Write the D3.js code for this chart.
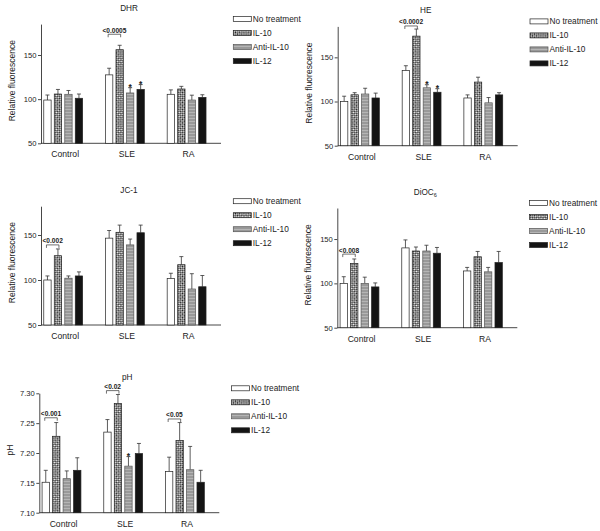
<!DOCTYPE html>
<html><head><meta charset="utf-8">
<script src="https://cdn.jsdelivr.net/npm/d3@7"></script>
<style>
body{margin:0;background:#fff}
svg{display:block}
text{font-family:"Liberation Sans",Arial,Helvetica,sans-serif;fill:#222}
</style>
</head><body>
<svg id="c" width="600" height="531"></svg>
<script>
// ---------- data ----------
const groups = ["Control", "SLE", "RA"];
const treatments = ["No treatment", "IL-10", "Anti-IL-10", "IL-12"];

// rows = groups, cols = treatments
const dhrMean = [[99, 105.8, 105.5, 101], [127.5, 156, 107, 111], [105.5, 111.5, 99, 102]];
const dhrErr  = [[104.7, 111, 109.8, 105.8], [135, 161, 113, 116.5], [110.5, 114.5, 104.5, 105]];

const heMean = [[100, 107.6, 108.5, 104], [135, 174, 115.5, 110.5], [104, 122, 98.5, 107.5]];
const heErr  = [[106, 110, 115, 109.5], [140.5, 182, 119, 114.5], [107.5, 127.5, 104.5, 110]];

const jcMean = [[100, 127, 102, 104.5], [146.5, 153, 139, 152.5], [101.5, 117, 90, 92.5]];
const jcErr  = [[104.5, 134.5, 104.5, 109], [155, 161, 145.5, 161], [107.5, 126, 107, 105]];

const diocMean = [[100, 122.5, 100, 96], [140, 136.5, 136.5, 134], [114, 130, 113, 123.5]];
const diocErr  = [[107.5, 127.5, 107, 100.5], [149, 141, 143, 140.5], [118, 136, 118, 136]];

const phMean = [[7.151, 7.228, 7.157, 7.171], [7.235, 7.283, 7.178, 7.199], [7.169, 7.221, 7.172, 7.151]];
const phErr  = [[7.171, 7.251, 7.170, 7.192], [7.256, 7.298, 7.194, 7.216], [7.193, 7.251, 7.211, 7.171]];

const fluorTicks = [50, 100, 150];
const phTicks = [7.10, 7.15, 7.20, 7.25, 7.30];

// significance brackets: group index, level (data units), label
const dhrBrackets = [{g: 1, level: 173.5, label: "<0.0005"}];
const heBrackets = [{g: 1, level: 185.5, label: "<0.0002"}];
const jcBrackets = [{g: 0, level: 139, label: "<0.002"}];
const diocBrackets = [{g: 0, level: 133, label: "<0.008"}];
const phBrackets = [{g: 0, level: 7.259, label: "<0.001"}, {g: 1, level: 7.3045, label: "<0.02"}, {g: 2, level: 7.257, label: "<0.05"}];

// asterisks: [group, treatment]
const dhrStars = [[1, 2], [1, 3]];
const heStars = [[1, 2], [1, 3]];
const phStars = [[1, 2]];

// ---------- layout ----------
const panels = [
  {title: "DHR", ytitle: "Relative fluorescence", mean: dhrMean, err: dhrErr, ticks: fluorTicks, fmt: d3.format("d"),
   domain: [50, 185], x0: 41, yB: 143.3, yT: 24.1, brackets: dhrBrackets, stars: dhrStars},
  {title: "HE", ytitle: "Relative fluorescence", mean: heMean, err: heErr, ticks: fluorTicks, fmt: d3.format("d"),
   domain: [50, 185], x0: 337.7, yB: 145.7, yT: 26.4, brackets: heBrackets, stars: heStars},
  {title: "JC-1", ytitle: "Relative fluorescence", mean: jcMean, err: jcErr, ticks: fluorTicks, fmt: d3.format("d"),
   domain: [50, 182], x0: 41, yB: 325, yT: 206.2, brackets: jcBrackets, stars: []},
  {title: "DiOC", sub: "6", ytitle: "Relative fluorescence", mean: diocMean, err: diocErr, ticks: fluorTicks, fmt: d3.format("d"),
   domain: [50, 185], x0: 337.3, yB: 327.7, yT: 208, brackets: diocBrackets, stars: []},
  {title: "pH", ytitle: "pH", mean: phMean, err: phErr, ticks: phTicks, fmt: d3.format(".2f"),
   domain: [7.10, 7.30], x0: 39.3, yB: 512.7, yT: 393.3, brackets: phBrackets, stars: phStars}
];

const svg = d3.select("#c");
const defs = svg.append("defs");

// IL-10: diamond checks
const p1 = defs.append("pattern").attr("id", "pIL10").attr("patternUnits", "userSpaceOnUse")
  .attr("width", 3).attr("height", 3).attr("patternTransform", "rotate(45)");
p1.append("rect").attr("width", 3).attr("height", 3).attr("fill", "#f4f4f4");
p1.append("rect").attr("width", 1.5).attr("height", 1.5).attr("fill", "#1a1a1a");
p1.append("rect").attr("x", 1.5).attr("y", 1.5).attr("width", 1.5).attr("height", 1.5).attr("fill", "#1a1a1a");
// Anti-IL-10: grey streaks
const p2 = defs.append("pattern").attr("id", "pAnti").attr("patternUnits", "userSpaceOnUse")
  .attr("width", 6).attr("height", 3);
p2.append("rect").attr("width", 6).attr("height", 3).attr("fill", "#999");
p2.append("rect").attr("y", 1).attr("width", 6).attr("height", 1).attr("fill", "#b5b5b5");

const fills = ["#ffffff", "url(#pIL10)", "url(#pAnti)", "#141414"];
const fillScale = d3.scaleOrdinal().domain(treatments).range(fills);

panels.forEach(P => {
  const g = svg.append("g");
  const y = d3.scaleLinear().domain(P.domain).range([P.yB, P.yT]);
  const gc = 22.2, step = 61.7;
  const xg = d3.scaleBand().domain(groups).range([P.x0 + gc - step / 2, P.x0 + gc - step / 2 + 3 * step]);
  const xt = d3.scaleBand().domain(treatments).range([-21, 21]).paddingInner(0.3).paddingOuter(0.15);
  const cx = (gi, ti) => xg(groups[gi]) + xg.bandwidth() / 2 + xt(treatments[ti]) + xt.bandwidth() / 2;

  // y axis
  const ax = g.append("g").attr("transform", `translate(${P.x0},0)`)
    .call(d3.axisLeft(y).tickValues(P.ticks).tickFormat(P.fmt).tickSize(3).tickSizeOuter(0).tickPadding(1.5));
  ax.select(".domain").attr("stroke", "#333").attr("stroke-width", 0.9);
  ax.selectAll(".tick line").attr("stroke", "#333").attr("stroke-width", 0.9);
  ax.selectAll(".tick text").attr("font-size", 7.6).attr("font-family", "Liberation Sans, Arial, sans-serif").attr("fill", "#222");

  // x axis
  g.append("line").attr("x1", P.x0).attr("x2", P.x0 + 180).attr("y1", P.yB).attr("y2", P.yB)
    .attr("stroke", "#333").attr("stroke-width", 0.9);
  groups.forEach((gr, gi) => {
    g.append("text").attr("x", xg(gr) + xg.bandwidth() / 2 + 2).attr("y", P.yB + 14)
      .attr("text-anchor", "middle").attr("font-size", 8.6).text(gr);
  });

  // bars + error bars
  P.mean.forEach((row, gi) => {
    row.forEach((v, ti) => {
      const x = cx(gi, ti);
      const e = P.err[gi][ti];
      g.append("line").attr("x1", x).attr("x2", x).attr("y1", y(v)).attr("y2", y(e))
        .attr("stroke", "#333").attr("stroke-width", 0.8);
      g.append("line").attr("x1", x - 2).attr("x2", x + 2).attr("y1", y(e)).attr("y2", y(e))
        .attr("stroke", "#333").attr("stroke-width", 0.8);
      g.append("rect").attr("x", x - xt.bandwidth() / 2).attr("width", xt.bandwidth())
        .attr("y", y(v)).attr("height", P.yB - y(v))
        .attr("fill", fillScale(treatments[ti])).attr("stroke", ti === 2 ? "#555" : "#222").attr("stroke-width", 0.7);
    });
  });

  // brackets
  P.brackets.forEach(b => {
    const xa = cx(b.g, 0) - 1, xb = cx(b.g, 1) + 1, yy = y(b.level);
    g.append("path").attr("d", `M${xa},${yy + 3}V${yy}H${xb}V${yy + 3}`)
      .attr("fill", "none").attr("stroke", "#333").attr("stroke-width", 0.7);
    g.append("text").attr("x", (xa + xb) / 2).attr("y", yy - 1.5).attr("text-anchor", "middle")
      .attr("font-size", 6.6).attr("font-weight", "bold").text(b.label);
  });

  // asterisks
  P.stars.forEach(([gi, ti]) => {
    g.append("text").attr("x", cx(gi, ti)).attr("y", y(P.err[gi][ti]) + 2.5).attr("text-anchor", "middle")
      .attr("font-size", 8.5).attr("font-weight", "bold").text("*");
  });

  // title
  const t = g.append("text").attr("x", P.x0 + 88).attr("y", P.yT - 13).attr("text-anchor", "middle")
    .attr("font-size", 8.2).text(P.title);
  if (P.sub) t.append("tspan").attr("font-size", 5.5).attr("dy", 2).text(P.sub);

  // y title
  g.append("text").attr("transform", `translate(${P.x0 - 29},${(P.yT + P.yB) / 2 - 3}) rotate(-90)`)
    .attr("text-anchor", "middle").attr("dominant-baseline", "central").attr("font-size", 8.5).text(P.ytitle);

  // legend
  const lx = P.x0 + 192.3, ly = P.yT - 5;
  treatments.forEach((tr, ti) => {
    const yy = ly + ti * 14;
    g.append("rect").attr("x", lx).attr("y", yy - 2.5).attr("width", 18).attr("height", 5)
      .attr("fill", fillScale(tr)).attr("stroke", ti === 2 ? "#555" : "#222").attr("stroke-width", 0.7);
    g.append("text").attr("x", lx + 19.5).attr("y", yy).attr("dominant-baseline", "central")
      .attr("font-size", 8.3).text(tr);
  });
});
</script>
</body></html>
